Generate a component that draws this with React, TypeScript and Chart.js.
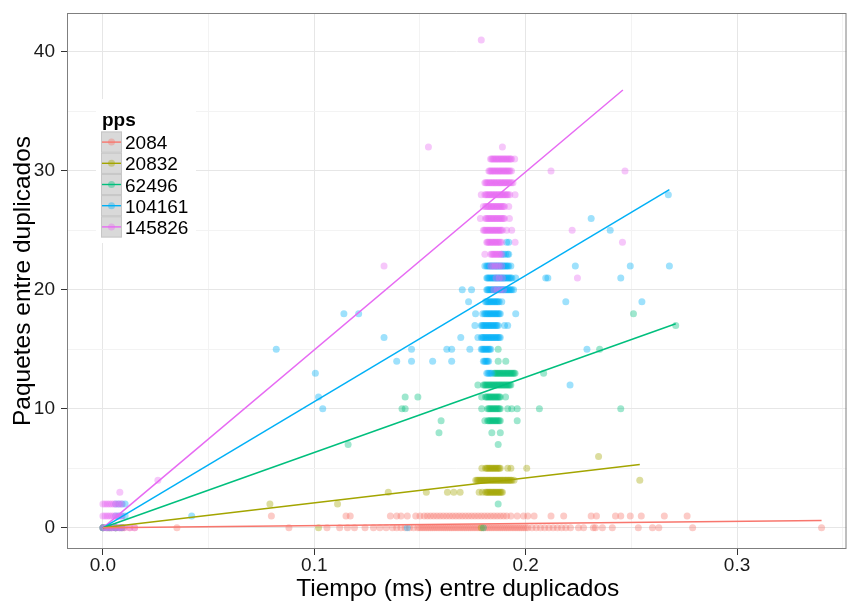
import React, { useEffect, useRef } from 'react';
import { Chart, registerables } from 'chart.js';

Chart.register(...registerables);

const FONT = '"Liberation Sans", Arial, Helvetica, sans-serif';

// ---- data ----
const ppsLabels = ['2084', '20832', '62496', '104161', '145826'];
const ppsColors = ['#F8766D', '#A3A500', '#00BF7D', '#00B0F6', '#E76BF3'];

// rows: [paquetes, tiempos (ms)]
type Row = [number, number[]];

const rows2084: Row[] = [
  [0, [0.000, 0.002, 0.004, 0.006, 0.008, 0.010, 0.0127, 0.015, 0.035, 0.088, 0.106, 0.112, 0.1157, 0.119, 0.124, 0.128, 0.131, 0.134, 0.137, 0.139, 0.141, 0.143, 0.145, 0.147, 0.149, 0.150, 0.151, 0.152, 0.153, 0.154, 0.155, 0.156, 0.157, 0.158, 0.159, 0.160, 0.161, 0.162, 0.163, 0.164, 0.165, 0.166, 0.167, 0.168, 0.169, 0.170, 0.171, 0.172, 0.173, 0.174, 0.175, 0.176, 0.177, 0.178, 0.179, 0.180, 0.181, 0.182, 0.183, 0.184, 0.185, 0.186, 0.187, 0.188, 0.189, 0.190, 0.191, 0.192, 0.193, 0.194, 0.195, 0.196, 0.197, 0.198, 0.199, 0.200, 0.201, 0.203, 0.205, 0.207, 0.209, 0.211, 0.213, 0.215, 0.217, 0.219, 0.2212, 0.225, 0.2274, 0.232, 0.233, 0.2363, 0.241, 0.2533, 0.260, 0.263, 0.279, 0.340]],
  [1, [0.0797, 0.115, 0.117, 0.136, 0.139, 0.141, 0.144, 0.148, 0.150, 0.152, 0.1535, 0.155, 0.1565, 0.158, 0.1595, 0.161, 0.1625, 0.164, 0.1655, 0.167, 0.1685, 0.170, 0.1715, 0.173, 0.1745, 0.176, 0.1775, 0.179, 0.1805, 0.182, 0.1835, 0.185, 0.1865, 0.188, 0.1895, 0.191, 0.193, 0.196, 0.199, 0.201, 0.204, 0.212, 0.218, 0.231, 0.2335, 0.2425, 0.245, 0.2495, 0.2547, 0.2656, 0.2764]],
];

const rows20832: Row[] = [
  [0, [0.000, 0.003, 0.006, 0.009, 0.102, 0.179]],
  [2, [0.079, 0.111]],
  [3, [0.135, 0.153, 0.163, 0.166, 0.169, 0.178, 0.1795, 0.181, 0.1815, 0.182, 0.1825, 0.183, 0.1835, 0.184, 0.1845, 0.185, 0.1855, 0.186, 0.1865, 0.187, 0.1875, 0.188, 0.1885, 0.189]],
  [4, [0.1764, 0.177, 0.1775, 0.178, 0.1785, 0.179, 0.1795, 0.18, 0.1805, 0.181, 0.1815, 0.182, 0.1825, 0.183, 0.1835, 0.184, 0.1845, 0.185, 0.1855, 0.186, 0.1865, 0.187, 0.1875, 0.188, 0.1885, 0.189, 0.1895, 0.19, 0.1905, 0.191, 0.1915, 0.192, 0.1925, 0.193, 0.1935, 0.1945, 0.254]],
  [5, [0.1793, 0.181, 0.1815, 0.182, 0.1825, 0.183, 0.1835, 0.184, 0.1845, 0.185, 0.1855, 0.186, 0.1865, 0.187, 0.1875, 0.188, 0.1915, 0.193, 0.2005]],
  [6, [0.2345]],
];

const rows62496: Row[] = [
  [0, [0.000, 0.003, 0.006, 0.009, 0.180]],
  [2, [0.187]],
  [7, [0.116, 0.187]],
  [8, [0.159, 0.184, 0.188]],
  [9, [0.160, 0.1807, 0.182, 0.1825, 0.183, 0.1835, 0.184, 0.1845, 0.185, 0.1855, 0.186, 0.1865, 0.187, 0.1875, 0.188, 0.196]],
  [10, [0.1415, 0.143, 0.1792, 0.182, 0.1825, 0.183, 0.1835, 0.184, 0.1845, 0.185, 0.1855, 0.186, 0.1865, 0.187, 0.1875, 0.188, 0.1915, 0.1934, 0.196, 0.2065, 0.245]],
  [11, [0.143, 0.149, 0.1792, 0.181, 0.1815, 0.182, 0.1825, 0.183, 0.1835, 0.184, 0.1845, 0.185, 0.1855, 0.186, 0.1865, 0.187, 0.1875, 0.188, 0.1905]],
  [12, [0.1774, 0.18, 0.1805, 0.181, 0.1815, 0.182, 0.1825, 0.183, 0.1835, 0.184, 0.1845, 0.185, 0.1855, 0.186, 0.1865, 0.187, 0.1875, 0.188, 0.1885, 0.189, 0.1895, 0.19, 0.1905, 0.191, 0.1915, 0.192, 0.1925, 0.193]],
  [13, [0.185, 0.1855, 0.186, 0.1865, 0.187, 0.1875, 0.188, 0.1885, 0.189, 0.1895, 0.19, 0.1905, 0.191, 0.1915, 0.192, 0.1925, 0.193, 0.1935, 0.194, 0.1945, 0.195, 0.2085]],
  [14, [0.187, 0.1906]],
  [15, [0.187, 0.235]],
  [17, [0.271]],
  [18, [0.251]],
];

const rows104161: Row[] = [
  [0, [0.000, 0.002, 0.004, 0.006, 0.008, 0.144]],
  [1, [0.006, 0.0075, 0.009, 0.0105, 0.042]],
  [2, [0.006, 0.0075, 0.009, 0.0105]],
  [10, [0.104]],
  [11, [0.102]],
  [12, [0.221]],
  [13, [0.1005, 0.1816, 0.1822, 0.1828, 0.1834, 0.184]],
  [14, [0.139, 0.146, 0.156, 0.165, 0.18, 0.1805, 0.181, 0.1815, 0.182, 0.1825]],
  [15, [0.082, 0.146, 0.1627, 0.165, 0.1736, 0.179, 0.1795, 0.18, 0.1805, 0.181, 0.1815, 0.182, 0.1825, 0.183, 0.1835, 0.229]],
  [16, [0.133, 0.1693, 0.1774, 0.179, 0.1795, 0.18, 0.1805, 0.181, 0.1815, 0.182, 0.1825, 0.183, 0.1835, 0.184, 0.1845, 0.185, 0.1855, 0.186, 0.1865, 0.187, 0.1875, 0.188]],
  [17, [0.176, 0.179, 0.1795, 0.18, 0.1805, 0.181, 0.1815, 0.182, 0.1825, 0.183, 0.1835, 0.184, 0.1845, 0.185, 0.1855, 0.186, 0.1865, 0.187, 0.19, 0.1915]],
  [18, [0.114, 0.121, 0.1763, 0.1797, 0.1805, 0.181, 0.1815, 0.182, 0.1825, 0.183, 0.1835, 0.184, 0.1845, 0.185, 0.1855, 0.186, 0.1865, 0.187, 0.1875, 0.188, 0.1953]],
  [19, [0.173, 0.181, 0.1815, 0.182, 0.1825, 0.183, 0.1835, 0.184, 0.1845, 0.185, 0.1855, 0.186, 0.1865, 0.187, 0.1875, 0.1887, 0.219, 0.255]],
  [20, [0.170, 0.1744, 0.1816, 0.182, 0.1825, 0.183, 0.1835, 0.184, 0.1845, 0.185, 0.1855, 0.186, 0.1865, 0.187, 0.1875, 0.188, 0.1885, 0.189, 0.1895, 0.19, 0.1905, 0.191, 0.1915, 0.192, 0.1925, 0.193, 0.1935, 0.1943]],
  [21, [0.1816, 0.182, 0.1825, 0.183, 0.1835, 0.184, 0.1845, 0.185, 0.1855, 0.186, 0.1865, 0.187, 0.1875, 0.188, 0.1885, 0.189, 0.1895, 0.19, 0.1905, 0.191, 0.1915, 0.192, 0.1925, 0.193, 0.1935, 0.1953, 0.2095, 0.2105, 0.245]],
  [22, [0.1807, 0.1815, 0.182, 0.1825, 0.183, 0.1835, 0.184, 0.1845, 0.185, 0.1855, 0.186, 0.1865, 0.187, 0.1875, 0.188, 0.1885, 0.189, 0.1895, 0.19, 0.1905, 0.191, 0.1915, 0.192, 0.193, 0.2235, 0.2495, 0.268]],
  [23, [0.1887, 0.1896, 0.1905, 0.1915, 0.192]],
  [24, [0.191, 0.192]],
  [25, [0.240]],
  [26, [0.231]],
  [28, [0.2675]],
];

const rows145826: Row[] = [
  [0, [0.000, 0.001, 0.002, 0.003, 0.004, 0.005, 0.006, 0.007, 0.008, 0.009, 0.010, 0.0127, 0.015]],
  [1, [0.000, 0.001, 0.002, 0.003, 0.004, 0.005, 0.006, 0.007, 0.008, 0.009]],
  [2, [0.000, 0.001, 0.002, 0.003, 0.004, 0.005, 0.006, 0.007, 0.008, 0.009]],
  [3, [0.008]],
  [4, [0.026]],
  [20, [0.185, 0.1865, 0.188, 0.1895]],
  [21, [0.186, 0.1875, 0.189, 0.2245]],
  [22, [0.133, 0.1835, 0.1845, 0.1855, 0.1865, 0.1875, 0.1887]],
  [23, [0.1807, 0.1835, 0.184, 0.1845, 0.185, 0.1855, 0.186, 0.1865, 0.187, 0.1875, 0.188, 0.1887]],
  [24, [0.1816, 0.182, 0.1825, 0.183, 0.1835, 0.184, 0.1845, 0.185, 0.1855, 0.186, 0.1865, 0.187, 0.1875, 0.188, 0.1887, 0.195, 0.2458]],
  [25, [0.18, 0.1805, 0.181, 0.1815, 0.182, 0.1825, 0.183, 0.1835, 0.184, 0.1845, 0.185, 0.1855, 0.186, 0.1865, 0.187, 0.1875, 0.188, 0.1885, 0.189, 0.191, 0.1934, 0.222]],
  [26, [0.1786, 0.181, 0.1815, 0.182, 0.1825, 0.183, 0.1835, 0.184, 0.1845, 0.185, 0.1855, 0.186, 0.1865, 0.187, 0.1875, 0.188, 0.1885, 0.189, 0.1895, 0.19, 0.1923]],
  [27, [0.18, 0.181, 0.1815, 0.182, 0.1825, 0.183, 0.1835, 0.184, 0.1845, 0.185, 0.1855, 0.186, 0.1865, 0.187, 0.1875, 0.188, 0.1885, 0.189, 0.1895, 0.19, 0.192]],
  [28, [0.179, 0.1807, 0.1812, 0.1817, 0.1822, 0.1827, 0.1832, 0.1837, 0.1842, 0.1847, 0.1852, 0.1857, 0.1862, 0.1867, 0.1872, 0.1877, 0.1882, 0.1887, 0.1892, 0.1897, 0.1902, 0.1907, 0.1912, 0.1917, 0.1925, 0.195]],
  [29, [0.1807, 0.1812, 0.1817, 0.1822, 0.1827, 0.1832, 0.1837, 0.1842, 0.1847, 0.1852, 0.1857, 0.1862, 0.1867, 0.1872, 0.1877, 0.1882, 0.1887, 0.1892, 0.1897, 0.1902, 0.1907, 0.1912, 0.1917, 0.1922, 0.1927, 0.1933, 0.194]],
  [30, [0.1826, 0.1831, 0.1836, 0.1841, 0.1846, 0.1851, 0.1856, 0.1861, 0.1866, 0.1871, 0.1876, 0.1881, 0.1886, 0.1891, 0.1896, 0.1901, 0.1906, 0.1911, 0.1916, 0.1921, 0.1926, 0.1933, 0.212, 0.247]],
  [31, [0.1834, 0.1839, 0.1844, 0.1849, 0.1854, 0.1859, 0.1864, 0.1869, 0.1874, 0.1879, 0.1884, 0.1889, 0.1894, 0.1899, 0.1904, 0.1909, 0.1914, 0.1919, 0.1924, 0.1929, 0.1933, 0.1948]],
  [32, [0.154, 0.189]],
  [41, [0.179]],
];

// fitted lines (lm) per pps: start and end
const fitStartX = [0, 0, 0, 0, 0];
const fitStartY = [0, 0, 0, 0, 0];
const fitEndX = [0.340, 0.254, 0.271, 0.268, 0.246];
const fitEndY = [0.62, 5.32, 17.15, 28.43, 36.8];

// axes
const xMajorTicks = [0, 0.1, 0.2, 0.3];
const xTickLabels = ['0.0', '0.1', '0.2', '0.3'];
const xMinorTicks = [0.05, 0.15, 0.25, 0.35];
const yMajorTicks = [0, 10, 20, 30, 40];
const yTickLabels = ['0', '10', '20', '30', '40'];
const yMinorTicks = [5, 15, 25, 35];

const xTitle = 'Tiempo (ms) entre duplicados';
const yTitle = 'Paquetes entre duplicados';
const legendTitle = 'pps';

const seriesRows = [rows2084, rows20832, rows62496, rows104161, rows145826];

function hexA(hex: string, a: number) {
  const r = parseInt(hex.slice(1, 3), 16);
  const g = parseInt(hex.slice(3, 5), 16);
  const b = parseInt(hex.slice(5, 7), 16);
  return `rgba(${r},${g},${b},${a})`;
}

const POINT_ALPHA = 0.38;
const POINT_R = 3.5;

const ggPlugin = {
  id: 'ggDecor',
  afterDraw(chart: any) {
    const ctx = chart.ctx as CanvasRenderingContext2D;
    const { left, top, right, bottom } = chart.chartArea;
    ctx.save();
    // panel border
    ctx.strokeStyle = '#7f7f7f';
    ctx.lineWidth = 1;
    ctx.strokeRect(left + 0.5, top + 0.5, right - left - 1, bottom - top - 1);

    // legend
    ctx.fillStyle = '#ffffff';
    ctx.fillRect(96, 99, 100, 144);
    ctx.fillStyle = '#000';
    ctx.font = `bold 19px ${FONT}`;
    ctx.textAlign = 'left';
    ctx.textBaseline = 'alphabetic';
    ctx.fillText(legendTitle, 102, 126);
    const kx = 101, ky = 131.5, ks = 21.2;
    ppsLabels.forEach((lab, i) => {
      const y0 = ky + i * ks;
      ctx.fillStyle = '#d9d9d9';
      ctx.fillRect(kx, y0, 21, ks);
      ctx.strokeStyle = '#c6c6c6';
      ctx.lineWidth = 1;
      ctx.strokeRect(kx + 0.5, y0 + 0.5, 20, ks - 1);
      const cy = y0 + ks / 2;
      ctx.strokeStyle = ppsColors[i];
      ctx.lineWidth = 1.4;
      ctx.beginPath();
      ctx.moveTo(kx + 1, cy);
      ctx.lineTo(kx + 20, cy);
      ctx.stroke();
      ctx.fillStyle = hexA(ppsColors[i], POINT_ALPHA);
      ctx.beginPath();
      ctx.arc(kx + 10.5, cy, POINT_R, 0, Math.PI * 2);
      ctx.fill();
      ctx.fillStyle = '#000';
      ctx.font = `19px ${FONT}`;
      ctx.fillText(lab, 125, cy + 7);
    });

    // axis titles
    ctx.fillStyle = '#000';
    ctx.font = `24.5px ${FONT}`;
    ctx.textAlign = 'center';
    ctx.textBaseline = 'alphabetic';
    ctx.fillText(xTitle, (left + right) / 2 + 1, 596);
    ctx.translate(30, (top + bottom) / 2);
    ctx.rotate(-Math.PI / 2);
    ctx.fillText(yTitle, 0, 0);
    ctx.restore();
  },
};

export default function App() {
  const ref = useRef<HTMLCanvasElement>(null);

  useEffect(() => {
    if (!ref.current) return;
    const pointDatasets = seriesRows.map((rows, i) => ({
      type: 'scatter' as const,
      label: ppsLabels[i],
      data: rows.flatMap(([y, xs]) => xs.map((x) => ({ x, y }))),
      backgroundColor: hexA(ppsColors[i], POINT_ALPHA),
      borderWidth: 0,
      pointRadius: POINT_R,
      pointHoverRadius: POINT_R,
      order: 10 - i,
    }));
    const lineDatasets = ppsLabels.map((lab, i) => ({
      type: 'line' as const,
      label: lab + ' fit',
      data: [
        { x: fitStartX[i], y: fitStartY[i] },
        { x: fitEndX[i], y: fitEndY[i] },
      ],
      borderColor: ppsColors[i],
      backgroundColor: ppsColors[i],
      borderWidth: 1.5,
      pointRadius: 0,
      fill: false,
      tension: 0,
      order: 0,
    }));

    const xAll = [...xMajorTicks, ...xMinorTicks].sort((a, b) => a - b);
    const yAll = [...yMajorTicks, ...yMinorTicks].sort((a, b) => a - b);

    const chart = new Chart(ref.current, {
      type: 'scatter',
      data: { datasets: [...pointDatasets, ...lineDatasets] as any },
      plugins: [ggPlugin],
      options: {
        animation: false,
        responsive: false,
        devicePixelRatio: 1,
        layout: { padding: { left: 0, top: 13, right: 1, bottom: 0 } },
        plugins: { legend: { display: false }, tooltip: { enabled: false } },
        scales: {
          x: {
            type: 'linear',
            min: -0.017,
            max: 0.3518,
            afterBuildTicks: (scale: any) => {
              scale.ticks = xAll.map((v) => ({ value: v }));
            },
            afterFit: (scale: any) => {
              scale.height = 54;
              scale.paddingLeft = 0;
              scale.paddingRight = 0;
            },
            border: { display: false },
            grid: {
              color: (c: any) => (xMinorTicks.includes(c.tick?.value) ? '#f3f3f3' : '#e6e6e6'),
              tickColor: (c: any) => (xMinorTicks.includes(c.tick?.value) ? 'rgba(0,0,0,0)' : '#333333'),
              tickLength: 6,
              lineWidth: 1,
            },
            ticks: {
              autoSkip: false,
              maxRotation: 0,
              minRotation: 0,
              padding: 1,
              color: '#1a1a1a',
              font: { family: FONT, size: 19, lineHeight: 1.0 },
              callback: (v: any) => {
                const i = xMajorTicks.indexOf(v);
                return i >= 0 ? xTickLabels[i] : '';
              },
            },
          },
          y: {
            type: 'linear',
            min: -1.78,
            max: 43.27,
            afterBuildTicks: (scale: any) => {
              scale.ticks = yAll.map((v) => ({ value: v }));
            },
            afterFit: (scale: any) => {
              scale.width = 67;
              scale.paddingTop = 0;
              scale.paddingBottom = 0;
            },
            border: { display: false },
            grid: {
              color: (c: any) => (yMinorTicks.includes(c.tick?.value) ? '#f3f3f3' : '#e6e6e6'),
              tickColor: (c: any) => (yMinorTicks.includes(c.tick?.value) ? 'rgba(0,0,0,0)' : '#333333'),
              tickLength: 6,
              lineWidth: 1,
            },
            ticks: {
              autoSkip: false,
              padding: 6,
              color: '#1a1a1a',
              font: { family: FONT, size: 19, lineHeight: 1.0 },
              callback: (v: any) => {
                const i = yMajorTicks.indexOf(v);
                return i >= 0 ? yTickLabels[i] : '';
              },
            },
          },
        },
      } as any,
    });
    return () => chart.destroy();
  }, []);

  return (
    <div style={{ position: 'absolute', left: 0, top: 0, width: 850, height: 603, background: '#fff' }}>
      <canvas ref={ref} width={850} height={603} style={{ display: 'block', width: 850, height: 603 }} />
    </div>
  );
}
